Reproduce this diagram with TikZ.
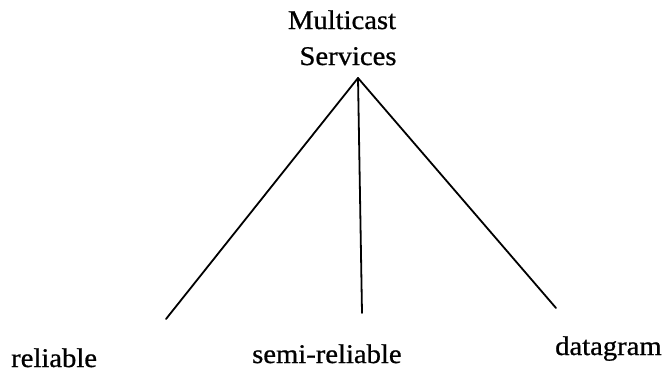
\documentclass[tikz,border=0pt]{standalone}
\usepackage{fontspec}
\setmainfont[FakeStretch=1.06,FakeBold=0.8]{Liberation Serif}
\begin{document}
\begin{tikzpicture}[x=1pt,y=-1pt,
  lbl/.style={inner sep=0pt,anchor=base west,font=\fontsize{27}{32}\selectfont},
  title/.style={inner sep=0pt,anchor=base,font=\fontsize{27}{32}\selectfont},
  branch/.style={line width=1.8pt,line cap=round}]
\useasboundingbox (0,0) rectangle (668,376);
\node[title] (t1) at (342,29) {Multicast};
\node[title] (t2) at (348,65) {Services};
\coordinate (apex) at (358,78);
\coordinate (e1) at (166,319);
\coordinate (e2) at (362,313);
\coordinate (e3) at (556,308);
\node[lbl] (rel) at (11,367) {reliable};
\node[lbl] (semi) at (252,363) {semi-reliable};
\node[lbl] (dg) at (555,355) {datagram};
\draw[branch] (apex) -- (e1);
\draw[branch] (apex) -- (e2);
\draw[branch] (apex) -- (e3);
\end{tikzpicture}
\end{document}
